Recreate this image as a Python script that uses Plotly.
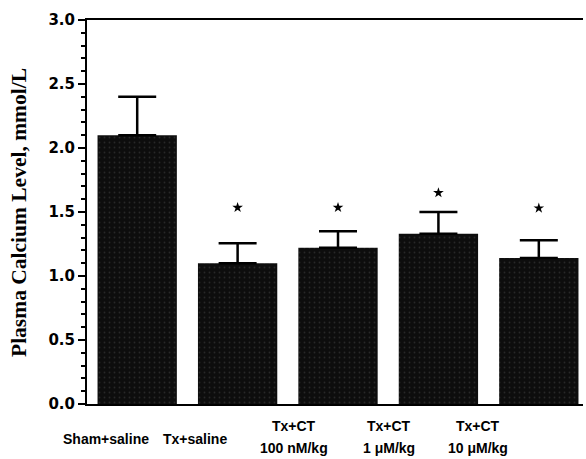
import plotly.graph_objects as go

categories = ["Sham+saline", "Tx+saline", "Tx+CT\n100 nM/kg", "Tx+CT\n1 \u03bcM/kg", "Tx+CT\n10 \u03bcM/kg"]
means = [2.10, 1.10, 1.22, 1.33, 1.14]
sem = [0.30, 0.155, 0.13, 0.17, 0.14]
star_y = [None, 1.535, 1.535, 1.65, 1.53]
y_ticks = [0.0, 0.5, 1.0, 1.5, 2.0, 2.5, 3.0]
y_ticklabels = ["0.0", "0.5", "1.0", "1.5", "2.0", "2.5", "3.0"]

idx = list(range(len(categories)))

fig = go.Figure()
fig.add_trace(go.Bar(
    x=idx, y=means, width=0.79,
    marker=dict(color="#0d0d0d", line=dict(width=0),
                pattern=dict(shape=".", fgcolor="#444444", bgcolor="#0d0d0d", size=5, solidity=0.1)),
    error_y=dict(type="data", array=sem, arrayminus=[0]*len(sem), symmetric=False,
                 color="black", thickness=2.5, width=19),
    showlegend=False,
))
sx = [i for i, s in zip(idx, star_y) if s is not None]
sy = [s for s in star_y if s is not None]
fig.add_trace(go.Scatter(
    x=sx, y=sy, mode="markers",
    marker=dict(symbol="star", size=8, color="black"),
    showlegend=False,
))

W, H = 586, 459
L, R, T, B = 87, 3, 20, 55
ph = H - T - B

xshift = [-31, -43, -44, -49, -61]
lab_font = dict(family="Liberation Sans, Arial", size=14, color="black", weight="bold")
for i, lab in enumerate(categories):
    lines = lab.split("\n")
    if len(lines) == 1:
        ys = [439]
    else:
        ys = [426, 448]
    for ln, py in zip(lines, ys):
        fig.add_annotation(x=i, xref="x", y=(H - B - py) / ph, yref="paper",
                           text=ln, showarrow=False, xshift=xshift[i],
                           xanchor="center", yanchor="middle", font=lab_font)

fig.add_annotation(xref="paper", yref="paper", x=-(L - 19) / (W - L - R), y=(H - B - 213) / ph,
                   text="Plasma Calcium Level, mmol/L", textangle=-90, showarrow=False,
                   xanchor="center", yanchor="middle",
                   font=dict(family="Liberation Serif, Times New Roman, serif", size=21.5, color="black", weight="bold"))

fig.update_layout(
    width=W, height=H,
    margin=dict(l=L, r=R, t=T, b=B),
    plot_bgcolor="white", paper_bgcolor="white",
    xaxis=dict(range=[-0.5, 4.44], showticklabels=False, ticks="", showgrid=False, zeroline=False,
               showline=True, linecolor="black", linewidth=2, mirror=True),
    yaxis=dict(range=[0, 3.0], tickvals=y_ticks, ticktext=y_ticklabels, ticks="outside", ticklen=7, tickwidth=2,
               tickcolor="black", showgrid=False, zeroline=False,
               showline=True, linecolor="black", linewidth=2,
               tickfont=dict(family="DejaVu Sans", size=15, color="black", weight="bold"),
               minor=dict(dtick=0.1, ticks="outside", ticklen=4, tickwidth=2, tickcolor="black", showgrid=False)),
)

fig.write_html("out.html", config={"displayModeBar": False},
               post_script="document.body.style.margin='0';document.body.style.overflow='hidden';")
